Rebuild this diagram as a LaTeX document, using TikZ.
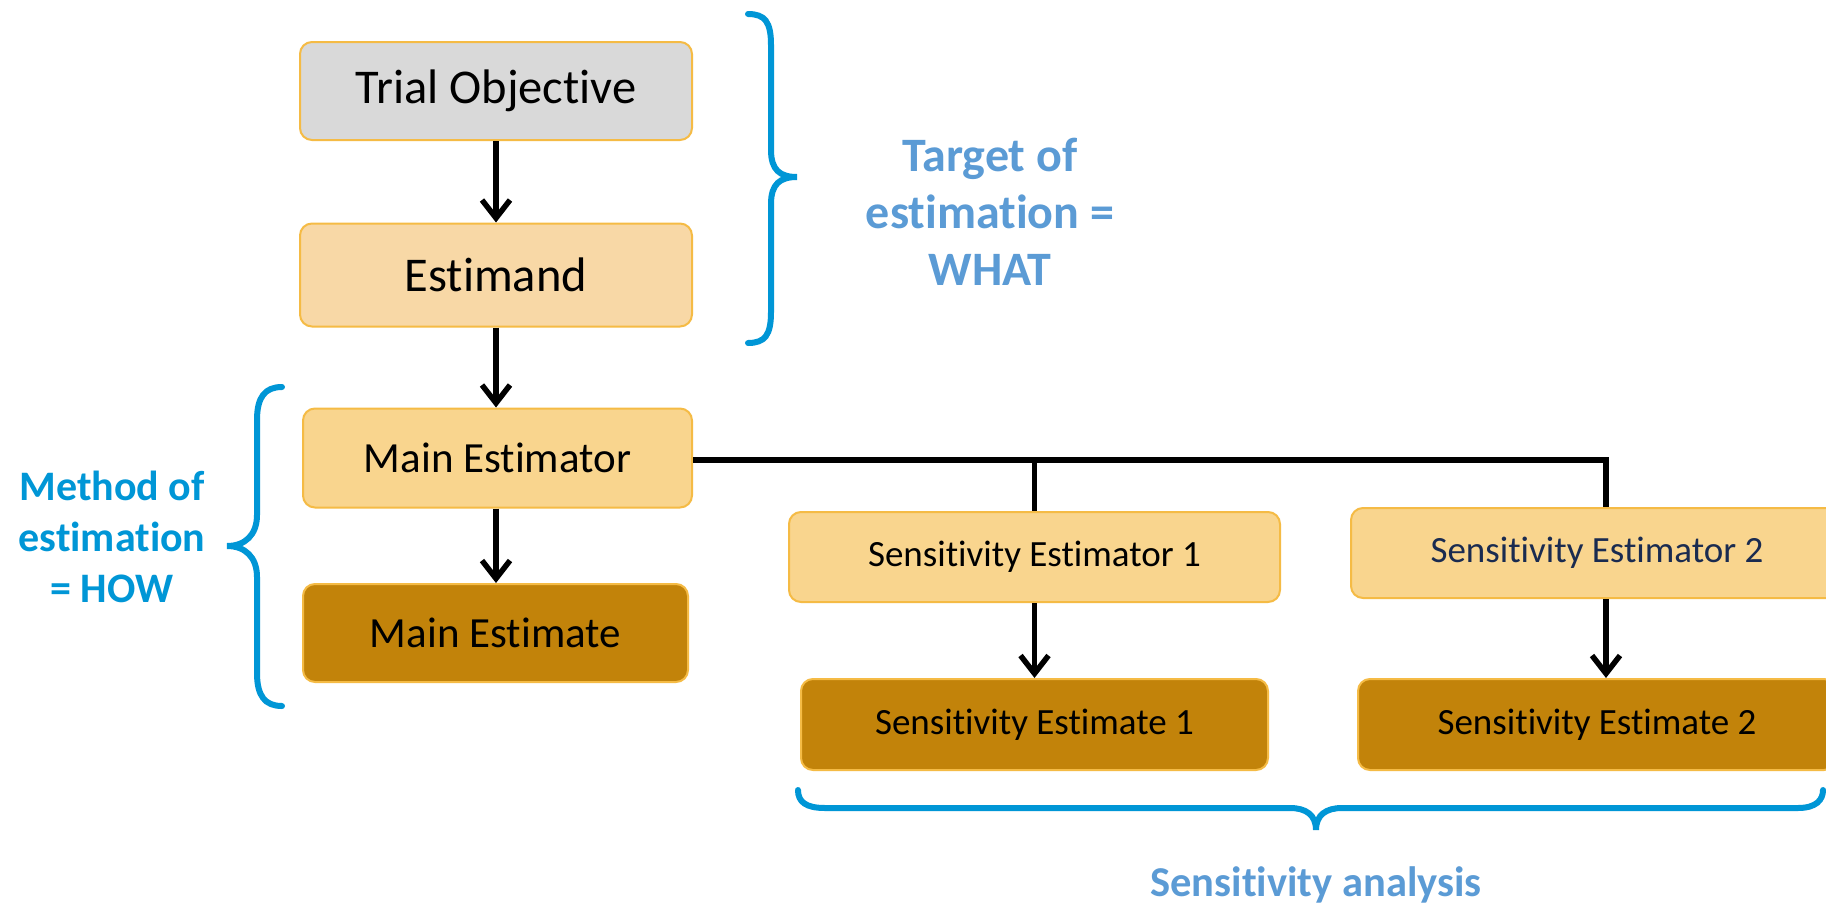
\documentclass[tikz,border=0pt]{standalone}
\usepackage{fontspec}
\setmainfont{Carlito}[Ligatures={NoCommon,NoContextual,NoRequired}]
\usetikzlibrary{arrows.meta}
\definecolor{boxborder}{HTML}{F5BB45}
\definecolor{grayfill}{HTML}{D9D9D9}
\definecolor{peach}{HTML}{F8D8A6}
\definecolor{lightorange}{HTML}{F9D58E}
\definecolor{darkgold}{HTML}{C2830A}
\definecolor{bracecol}{HTML}{0096D6}
\definecolor{lightblue}{HTML}{5B9BD5}
\definecolor{navy}{HTML}{1A2B50}
\tikzset{
  box/.style={draw=boxborder, line width=2pt, rounded corners=12pt, align=center, inner sep=0pt},
  conn/.style={line width=5.5pt, -{Straight Barb[length=18pt,width=28pt,line width=5.5pt]}},
  branch/.style={line width=5.5pt},
  brace/.style={draw=bracecol, line width=6pt, line cap=round},
  bigtxt/.style={font=\fontsize{48.5}{56}\selectfont},
  midtxt/.style={font=\fontsize{43}{50}\selectfont},
  smalltxt/.style={font=\fontsize{37}{44}\selectfont},
}
\begin{document}
\begin{tikzpicture}[x=1pt,y=-1pt]
\clip (0,0) rectangle (1826,905);
\fill[white] (0,0) rectangle (1826,905);
% boxes
\node[box, bigtxt, fill=grayfill, minimum width=392pt, minimum height=98pt] (TO) at (496,91) {Trial Objective};
\node[box, bigtxt, fill=peach, minimum width=392pt, minimum height=103pt] (EST) at (496,275) {Estimand};
\node[box, midtxt, fill=lightorange, minimum width=389pt, minimum height=99pt] (ME) at (497.5,458) {Main Estimator};
\node[box, midtxt, fill=darkgold, minimum width=385pt, minimum height=98pt] (MEt) at (495.5,633) {Main Estimate};
\node[box, smalltxt, fill=lightorange, minimum width=491pt, minimum height=90pt] (SE1) at (1034.5,557) {Sensitivity Estimator 1};
\node[box, smalltxt, fill=lightorange, text=navy, minimum width=492pt, minimum height=90pt] (SE2) at (1597,553) {Sensitivity Estimator 2};
\node[box, smalltxt, fill=darkgold, minimum width=467pt, minimum height=91pt] (SEt1) at (1034.5,724.5) {Sensitivity Estimate 1};
\node[box, smalltxt, fill=darkgold, minimum width=478pt, minimum height=91pt] (SEt2) at (1597,724.5) {Sensitivity Estimate 2};
% connectors
\draw[conn] (TO.south) -- (EST.north);
\draw[conn] (EST.south) -- (EST.south |- ME.north);
\draw[conn] (EST.south |- ME.south) -- (EST.south |- MEt.north);
\coordinate (b1) at (1034.5,460);
\coordinate (b2) at (1606,460);
\draw[branch, line join=miter] (ME.east |- b2) -- (b2) -- (b2 |- SE2.north);
\draw[branch] (b1) -- (SE1.north);
\draw[conn] (SE1.south) -- (SEt1.north);
\draw[conn] (b2 |- SE2.south) -- (b2 |- SEt2.north);
% braces
\draw[brace] (748,14) .. controls (765,14) and (771,22) .. (771,45) -- (771,150)
  .. controls (771,170) and (780,177) .. (797,177)
  .. controls (780,177) and (771,184) .. (771,204) -- (771,312)
  .. controls (771,335) and (765,343) .. (748,343);
\draw[brace] (282,387) .. controls (265,387) and (257,397) .. (257,420) -- (257,515)
  .. controls (257,535) and (245,546) .. (227,546)
  .. controls (245,546) and (257,557) .. (257,577) -- (257,673)
  .. controls (257,696) and (265,706) .. (282,706);
\draw[brace] (798,790) .. controls (798,802) and (806,808) .. (825,808) -- (1290,808)
  .. controls (1306,808) and (1316,815) .. (1316,830)
  .. controls (1316,815) and (1326,808) .. (1342,808) -- (1798,808)
  .. controls (1816,808) and (1823,800) .. (1823,790);
% labels
\node[font=\fontsize{48}{57}\selectfont\bfseries, text=lightblue, align=center] (target) at (990,212) {Target of\\estimation =\\WHAT};
\node[font=\fontsize{42}{51}\selectfont\bfseries, text=bracecol, align=center] (method) at (112,537) {Method of\\estimation\\= HOW};
\node[font=\fontsize{42.5}{50}\selectfont\bfseries, text=lightblue] (sens) at (1316,885) {Sensitivity analysis};
\end{tikzpicture}
\end{document}
